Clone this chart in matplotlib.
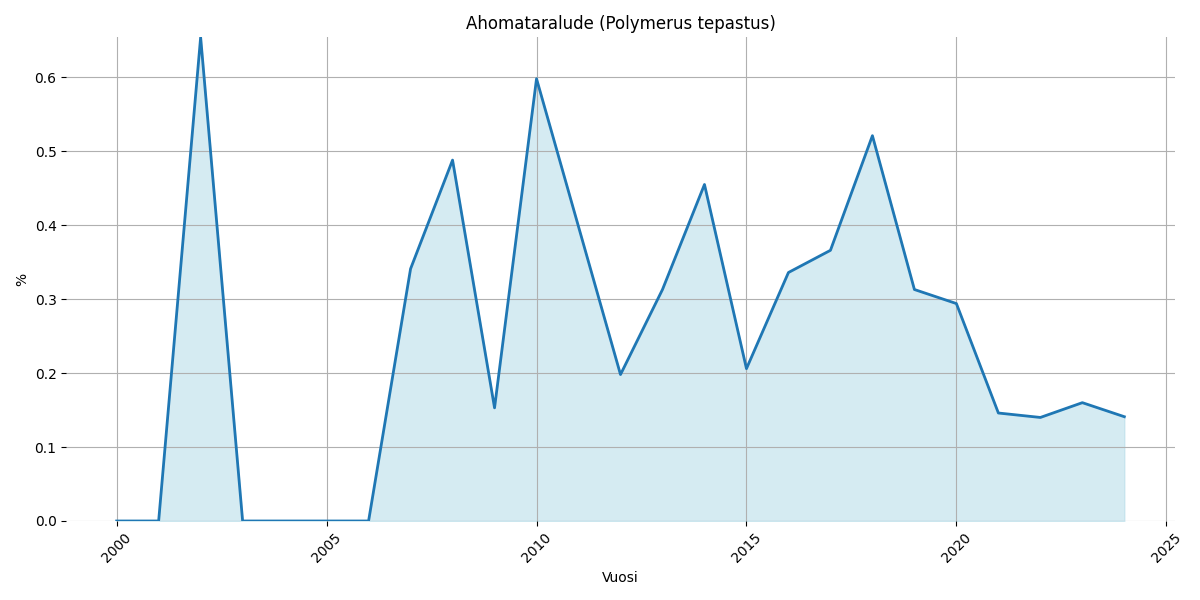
import matplotlib.pyplot as plt

# Vuosittaiset osuudet (%)
years = list(range(2000, 2025))
values = [0.0, 0.0, 0.654, 0.0, 0.0, 0.0, 0.0, 0.341, 0.488, 0.153,
          0.598, 0.398, 0.198, 0.313, 0.455, 0.206, 0.336, 0.366, 0.521, 0.313,
          0.294, 0.146, 0.140, 0.160, 0.141]

fig, ax = plt.subplots(figsize=(12, 6), dpi=100)
ax.fill_between(years, values, color='lightblue', alpha=0.5)
ax.plot(years, values, color='#1f77b4', linewidth=2)
ax.set_title('Ahomataralude (Polymerus tepastus)')
ax.set_xlabel('Vuosi')
ax.set_ylabel('%')
ax.set_ylim(0, max(values))
ax.grid(True)
for s in ax.spines.values():
    s.set_visible(False)
plt.xticks(rotation=45)
plt.tight_layout()
plt.savefig('out.png')
